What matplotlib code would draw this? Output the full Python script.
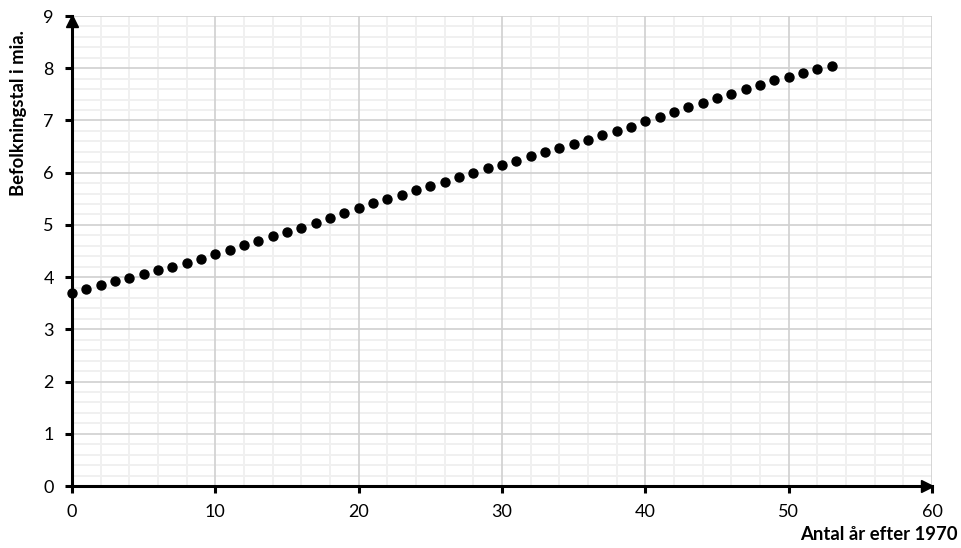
import matplotlib.pyplot as plt
from matplotlib.ticker import MultipleLocator
from matplotlib.transforms import offset_copy

# Verdens befolkning (mia.), antal år efter 1970
aar = list(range(0, 54))
befolkning = [3.70, 3.77, 3.84, 3.92, 3.99, 4.06, 4.13, 4.20, 4.27, 4.35,
              4.45, 4.52, 4.61, 4.69, 4.78, 4.86, 4.95, 5.04, 5.13, 5.22,
              5.32, 5.41, 5.49, 5.58, 5.66, 5.75, 5.83, 5.91, 5.99, 6.08,
              6.15, 6.23, 6.31, 6.39, 6.47, 6.55, 6.63, 6.72, 6.80, 6.88,
              6.99, 7.07, 7.16, 7.25, 7.34, 7.43, 7.51, 7.60, 7.68, 7.77,
              7.84, 7.91, 7.98, 8.05]

plt.rcParams['font.family'] = ['Lato', 'DejaVu Sans']

fig = plt.figure(figsize=(9.62, 5.48), dpi=100)
ax = fig.add_axes([0.0748, 0.1131, 0.8940, 0.8577])

ax.scatter(aar, befolkning, s=42, color='black', zorder=3, clip_on=False)

ax.set_xlim(0, 60)
ax.set_ylim(0, 9)
ax.xaxis.set_major_locator(MultipleLocator(10))
ax.xaxis.set_minor_locator(MultipleLocator(2))
ax.yaxis.set_major_locator(MultipleLocator(1))
ax.yaxis.set_minor_locator(MultipleLocator(0.2))

# fint gitter bagved, grove linjer ovenpå
ax.grid(which='minor', color='#f0f0f0', linewidth=1.4)
ax.set_axisbelow(True)
for x in ax.get_xticks():
    ax.axvline(x, color='#d0d0d0', linewidth=1.2, zorder=1)
for y in ax.get_yticks():
    ax.axhline(y, color='#d0d0d0', linewidth=1.2, zorder=1)

for s in ['top', 'right']:
    ax.spines[s].set_visible(False)
for s in ['left', 'bottom']:
    ax.spines[s].set_linewidth(2.2)
    ax.spines[s].set_zorder(4)

ax.tick_params(which='major', length=5, width=2.2, labelsize=13, pad=8)
ax.tick_params(which='minor', length=0)

# pile på akserne (spidsen ved aksens ende)
top = offset_copy(ax.transAxes, fig=fig, x=0, y=-4.5, units='dots')
right = offset_copy(ax.transAxes, fig=fig, x=-4.5, y=0, units='dots')
ax.plot(0, 1, marker='^', color='black', markersize=9, transform=top, clip_on=False, zorder=5)
ax.plot(1, 0, marker='>', color='black', markersize=9, transform=right, clip_on=False, zorder=5)

fig.text(0.019, 0.794, 'Befolkningstal i mia.', rotation=90, fontsize=13.3, fontweight='bold',
         ha='center', va='center')
fig.text(0.996, 0.024, 'Antal år efter 1970', fontsize=13.3, fontweight='bold',
         ha='right', va='center')

fig.savefig('out.png', dpi=100)
